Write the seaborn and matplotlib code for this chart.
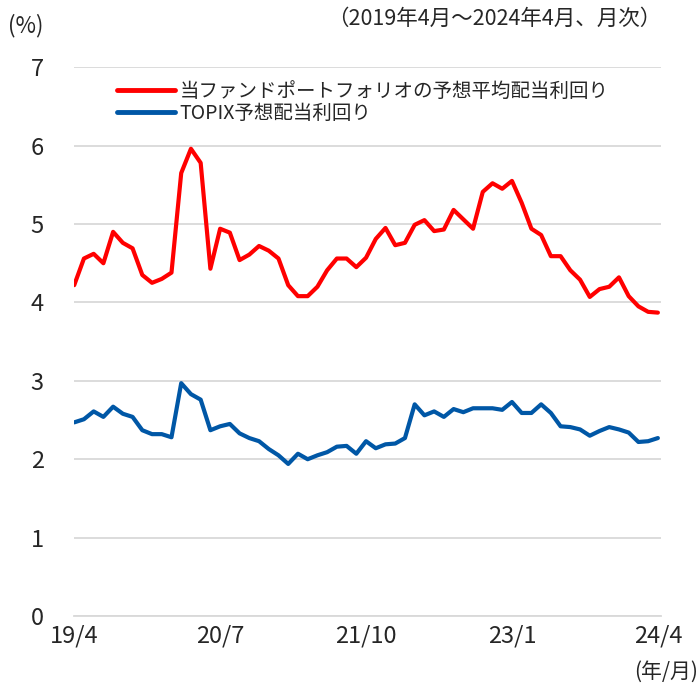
import matplotlib
matplotlib.use('Agg')
import matplotlib.pyplot as plt
import pandas as pd
import seaborn as sns

# monthly, 2019/4 .. 2024/4
months = pd.date_range('2019-04-01', periods=61, freq='MS')
fund = [4.22, 4.56, 4.62, 4.50, 4.90, 4.76, 4.69, 4.35, 4.25, 4.30, 4.38,
        5.65, 5.96, 5.78, 4.43, 4.94, 4.89, 4.54, 4.61, 4.72, 4.66, 4.56,
        4.22, 4.08, 4.08, 4.20, 4.41, 4.56, 4.56, 4.45, 4.57, 4.81, 4.95,
        4.73, 4.76, 4.99, 5.05, 4.91, 4.93, 5.18, 5.06, 4.94, 5.41, 5.52,
        5.45, 5.55, 5.27, 4.94, 4.86, 4.59, 4.59, 4.41, 4.29, 4.07, 4.17,
        4.20, 4.32, 4.08, 3.95, 3.88, 3.87]
topix = [2.47, 2.51, 2.61, 2.54, 2.67, 2.58, 2.54, 2.37, 2.32, 2.32, 2.28,
         2.97, 2.83, 2.76, 2.37, 2.42, 2.45, 2.33, 2.27, 2.23, 2.13, 2.05,
         1.94, 2.07, 2.00, 2.05, 2.09, 2.16, 2.17, 2.07, 2.23, 2.14, 2.19,
         2.20, 2.27, 2.70, 2.56, 2.61, 2.54, 2.64, 2.60, 2.65, 2.65, 2.65,
         2.63, 2.73, 2.59, 2.59, 2.70, 2.59, 2.42, 2.41, 2.38, 2.30, 2.36,
         2.41, 2.38, 2.34, 2.22, 2.23, 2.27]

series_names = ['当ファンドポートフォリオの予想平均配当利回り', 'TOPIX予想配当利回り']
colors = ['#FF0000', '#0057A6']
tick_idx = [0, 15, 30, 45, 60]
tick_labels = ['19/4', '20/7', '21/10', '23/1', '24/4']


def show_chart():
    df = pd.DataFrame({'idx': range(len(months)),
                       series_names[0]: fund,
                       series_names[1]: topix})
    df = df.melt('idx', var_name='系列', value_name='利回り')

    sns.set_style('white')
    plt.rcParams['font.family'] = ['Noto Sans CJK JP', 'DejaVu Sans']

    fig = plt.figure(figsize=(7, 6.86), dpi=100)
    ax = fig.add_axes([0.106, 0.102, 0.838, 0.800])
    sns.lineplot(data=df, x='idx', y='利回り', hue='系列',
                 palette=colors, linewidth=3, ax=ax)

    ax.set_xlim(0, 60.3)
    ax.set_ylim(0, 7)
    ax.set_yticks(range(0, 8))
    ax.set_xticks(tick_idx)
    ax.set_xticklabels(tick_labels)
    ax.grid(axis='y', color='#D9D9D9', linewidth=1.3)
    ax.set_axisbelow(True)
    for side in ['top', 'right', 'left']:
        ax.spines[side].set_visible(False)
    ax.spines['bottom'].set_color('#D9D9D9')
    ax.spines['bottom'].set_linewidth(1.3)
    ax.tick_params(axis='x', direction='in', length=5, color='#D9D9D9',
                   width=1.3, labelsize=17, pad=6)
    ax.tick_params(axis='y', length=0, labelsize=17, pad=22)
    ax.set_xlabel('')
    ax.set_ylabel('')

    leg = ax.legend(loc='upper left', bbox_to_anchor=(0.05, 1.0), frameon=False,
                    fontsize=14, handlelength=3.0, handletextpad=0.2,
                    labelspacing=0.05, borderaxespad=0.3)
    for line in leg.get_lines():
        line.set_linewidth(3.5)

    fig.text(0.012, 0.962, '(%)', fontsize=16, ha='left', va='center')
    fig.text(0.945, 0.972, '（2019年4月～2024年4月、月次）', fontsize=15.5,
             ha='right', va='center')
    fig.text(0.997, 0.020, '(年/月)', fontsize=15, ha='right', va='center')

    fig.savefig('out.png', dpi=100)


if __name__ == '__main__':
    show_chart()
